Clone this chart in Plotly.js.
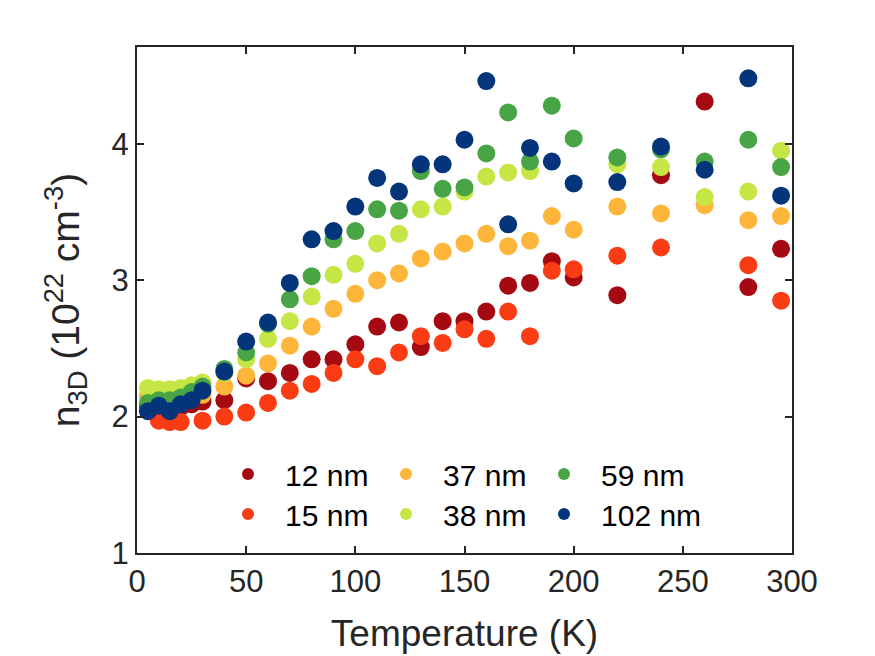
<!DOCTYPE html>
<html>
<head>
<meta charset="utf-8">
<script src="https://cdn.plot.ly/plotly-3.0.1.min.js"></script>
<style>html,body{margin:0;padding:0;background:#fff;} #chart{width:875px;height:656px;}</style>
</head>
<body>
<div id="chart"></div>
<script>
// Temperatures (K)
const T_12  = [5,10,15,20,25,30,40,50,60,70,80,90,100,110,120,130,140,150,160,170,180,190,200,220,240,260,280,295];
const T_15  = [10,15,20,30,40,50,60,70,80,90,100,110,120,130,140,150,160,170,180,190,200,220,240,280,295];
const T_37  = [5,10,15,20,25,30,40,50,60,70,80,90,100,110,120,130,140,150,160,170,180,190,200,220,240,260,280,295];
const T_38  = [5,10,15,20,25,30,40,50,60,70,80,90,100,110,120,130,140,150,160,170,180,220,240,260,280,295];
const T_59  = [5,10,15,20,25,30,40,50,60,70,80,90,100,110,120,130,140,150,160,170,180,190,200,220,240,260,280,295];
const T_102 = [5,10,15,20,25,30,40,50,60,70,80,90,100,110,120,130,140,150,160,170,180,190,200,220,240,260,280,295];

// n_3D (10^22 cm^-3)
const n_12  = [2.08,2.06,2.06,2.07,2.09,2.11,2.12,2.28,2.26,2.32,2.42,2.42,2.53,2.66,2.69,2.51,2.70,2.70,2.77,2.96,2.98,3.14,3.02,2.89,3.77,4.31,2.95,3.23];
const n_15  = [1.97,1.96,1.96,1.97,2.00,2.03,2.10,2.19,2.24,2.32,2.42,2.37,2.47,2.59,2.54,2.64,2.57,2.77,2.59,3.07,3.08,3.18,3.24,3.11,2.85];
const n_37  = [2.15,2.14,2.14,2.14,2.15,2.16,2.22,2.30,2.39,2.52,2.66,2.79,2.90,3.00,3.05,3.16,3.21,3.27,3.34,3.25,3.29,3.47,3.37,3.54,3.49,3.55,3.44,3.47];
const n_38  = [2.21,2.20,2.20,2.21,2.23,2.25,2.32,2.42,2.57,2.70,2.88,3.04,3.12,3.27,3.34,3.52,3.54,3.65,3.76,3.79,3.80,3.85,3.83,3.61,3.65,3.95];
const n_59  = [2.10,2.12,2.12,2.14,2.18,2.22,2.35,2.47,2.68,2.86,3.03,3.30,3.36,3.52,3.51,3.80,3.67,3.68,3.93,4.23,3.87,4.28,4.04,3.90,3.96,3.87,4.03,3.83];
const n_102 = [2.04,2.08,2.04,2.09,2.12,2.19,2.33,2.55,2.69,2.98,3.30,3.36,3.54,3.75,3.65,3.85,3.85,4.03,4.46,3.41,3.97,3.87,3.71,3.72,3.98,3.81,4.48,3.62];

const seriesNames = ['12 nm','15 nm','37 nm','38 nm','59 nm','102 nm'];
const seriesColors = ['#A50A12','#F93C14','#FDB63A','#C6E646','#48A444','#04357A'];
const xs = [T_12,T_15,T_37,T_38,T_59,T_102];
const ys = [n_12,n_15,n_37,n_38,n_59,n_102];
// top legend row: 12, 37, 59 ; bottom row: 15, 38, 102
const legendOf = ['legend','legend2','legend','legend2','legend','legend2'];
const lastColumn = [false,false,false,false,true,true];

const FONT = 'Liberation Sans, Arial, Helvetica, sans-serif';
const AX = '#262626';

const data = xs.map((x,i)=>{
  const tr = {
    type:'scatter', mode:'markers', x:x, y:ys[i], name:seriesNames[i],
    legend: legendOf[i],
    marker:{color:seriesColors[i], size:18, line:{width:0}},
    hoverinfo:'x+y+name'
  };
  if(lastColumn[i]) tr.legendwidth = 115;
  return tr;
});

const legendCommon = {
  orientation:'h', xanchor:'left', yanchor:'middle',
  bgcolor:'rgba(0,0,0,0)', borderwidth:0,
  font:{family:FONT, size:30, color:'#000'},
  itemsizing:'constant', itemwidth:64, entrywidthmode:'pixels', entrywidth:79,
  traceorder:'normal'
};

const layout = {
  width:875, height:656,
  margin:{l:137, r:83, t:47, b:103},
  paper_bgcolor:'#fff', plot_bgcolor:'#fff',
  showlegend:true,
  legend: Object.assign({}, legendCommon, {x:0.113, y:0.156}),
  legend2: Object.assign({}, legendCommon, {x:0.113, y:0.077}),
  xaxis:{
    range:[0,300], tickvals:[0,50,100,150,200,250,300],
    ticks:'inside', ticklen:7, tickwidth:2, tickcolor:AX,
    showline:true, linewidth:2, linecolor:AX, mirror:'ticks',
    showgrid:false, zeroline:false,
    tickfont:{family:FONT, size:31, color:AX},
    title:{text:'Temperature (K)', font:{family:FONT, size:37, color:AX}, standoff:22}
  },
  yaxis:{
    range:[1,4.71], tickvals:[1,2,3,4],
    ticks:'inside', ticklen:7, tickwidth:2, tickcolor:AX,
    showline:true, linewidth:2, linecolor:AX, mirror:'ticks',
    showgrid:false, zeroline:false,
    tickfont:{family:FONT, size:31, color:AX},
    title:{text:'n<sub>3D</sub> (10<sup>22</sup> cm<sup>-3</sup>)', font:{family:FONT, size:39, color:AX}, standoff:20}
  }
};

Plotly.newPlot('chart', data, layout, {displayModeBar:false, staticPlot:true});
</script>
</body>
</html>
